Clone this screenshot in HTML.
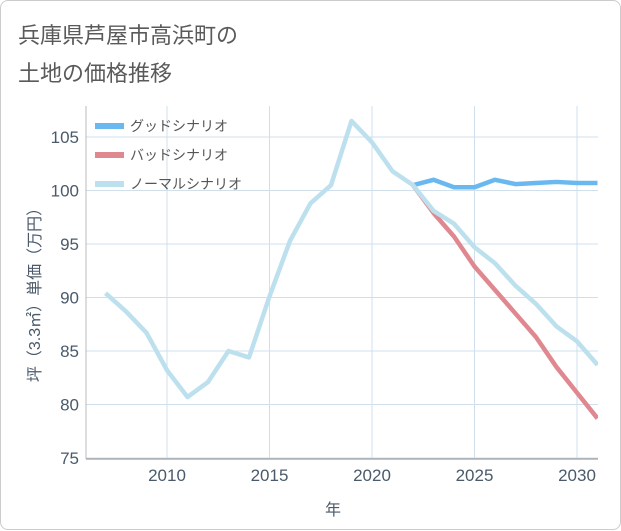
<!DOCTYPE html>
<html><head><meta charset="utf-8"><style>
body{margin:0;background:#fff;font-family:"Liberation Sans","Noto Sans CJK JP",sans-serif;}
#card{position:absolute;left:0;top:0;width:619px;height:528px;border:1px solid #ccc;border-radius:8px;background:#fff;}
.title{position:absolute;left:17px;font-size:22px;color:#5a5a5a;}
</style></head><body>
<div id="card">
<div class="title" style="top:17px">兵庫県芦屋市高浜町の</div>
<div class="title" style="top:55px">土地の価格推移</div>
<svg id="chart" width="621" height="530" style="position:absolute;left:0;top:0"></svg>
</div>
<script>
const years=[2007,2008,2009,2010,2011,2012,2013,2014,2015,2016,2017,2018,2019,2020,2021,2022,2023,2024,2025,2026,2027,2028,2029,2030,2031];
const normal=[90.4,88.7,86.7,83.2,80.7,82.1,85.0,84.4,90.1,95.3,98.8,100.5,106.5,104.5,101.8,100.5,98.1,96.9,94.7,93.2,91.1,89.4,87.3,85.9,83.7];
const goodYears=[2022,2023,2024,2025,2026,2027,2028,2029,2030,2031];
const good=[100.5,101.0,100.3,100.3,101.0,100.6,100.7,100.8,100.7,100.7];
const bad=[100.5,97.9,95.7,92.9,90.7,88.5,86.3,83.5,81.1,78.7];
const yTicks=[75,80,85,90,95,100,105];
const xTicks=[2010,2015,2020,2025,2030];
const L=85,R=597,T=105,B=458;
const x=v=>166+(v-2010)*20.5;
const y=v=>457-(v-75)*10.7;
const svg=document.getElementById('chart');
const NS='http://www.w3.org/2000/svg';
function mk(t,a,p){const e=document.createElementNS(NS,t);for(const k in a)e.setAttribute(k,a[k]);(p||svg).appendChild(e);return e;}
const clip=mk('clipPath',{id:'c'});mk('rect',{x:L,y:T,width:R-L,height:B-T},clip);
yTicks.forEach(v=>{const g=mk('line',{x1:L,x2:R,y1:y(v),y2:y(v),stroke:'#cfe0ec','stroke-width':1});

const t=mk('text',{x:78,y:y(v)+6,'text-anchor':'end','font-size':17,fill:'#4a5a6a'});t.textContent=v;
});
xTicks.forEach(v=>{const g=mk('line',{x1:x(v),x2:x(v),y1:T,y2:B,stroke:'#cfe0ec','stroke-width':1});

const t=mk('text',{x:x(v),y:480,'text-anchor':'middle','font-size':17,fill:'#4a5a6a'});t.textContent=v;
});
const ax=mk('line',{x1:L,x2:R,y1:B,y2:B,stroke:'#888','stroke-width':1});

const ay=mk('line',{x1:L,x2:L,y1:T,y2:B,stroke:'#bbb','stroke-width':1});

function line(xs,vs,c,n){const p=mk('polyline',{points:xs.map((a,i)=>x(a)+','+y(vs[i])).join(' '),fill:'none',stroke:c,'stroke-width':4.5,'stroke-linejoin':'round','clip-path':'url(#c)'});
}
line(goodYears,good,'#6ab8f0','good-scenario-line');
line(goodYears,bad,'#e08890','bad-scenario-line');
line(years,normal,'#bde0ee','normal-scenario-line');
[['グッドシナリオ','#6ab8f0'],['バッドシナリオ','#e08890'],['ノーマルシナリオ','#bde0ee']].forEach((d,i)=>{
const yy=125+i*29;const r=mk('rect',{x:94,y:yy-3,width:29,height:6,fill:d[1]});

const t=mk('text',{x:129,y:yy+5,'font-size':14,fill:'#555'});t.textContent=d[0];
});
const xt=mk('text',{x:332,y:514,'text-anchor':'middle','font-size':16,fill:'#4a5a6a'});xt.textContent='年';

const yt=mk('text',{x:0,y:0,'text-anchor':'middle','font-size':16,fill:'#4a5a6a',transform:'translate(39,290) rotate(-90)'});yt.textContent='坪（3.3㎡）単価（万円）';

</script>
</body></html>
